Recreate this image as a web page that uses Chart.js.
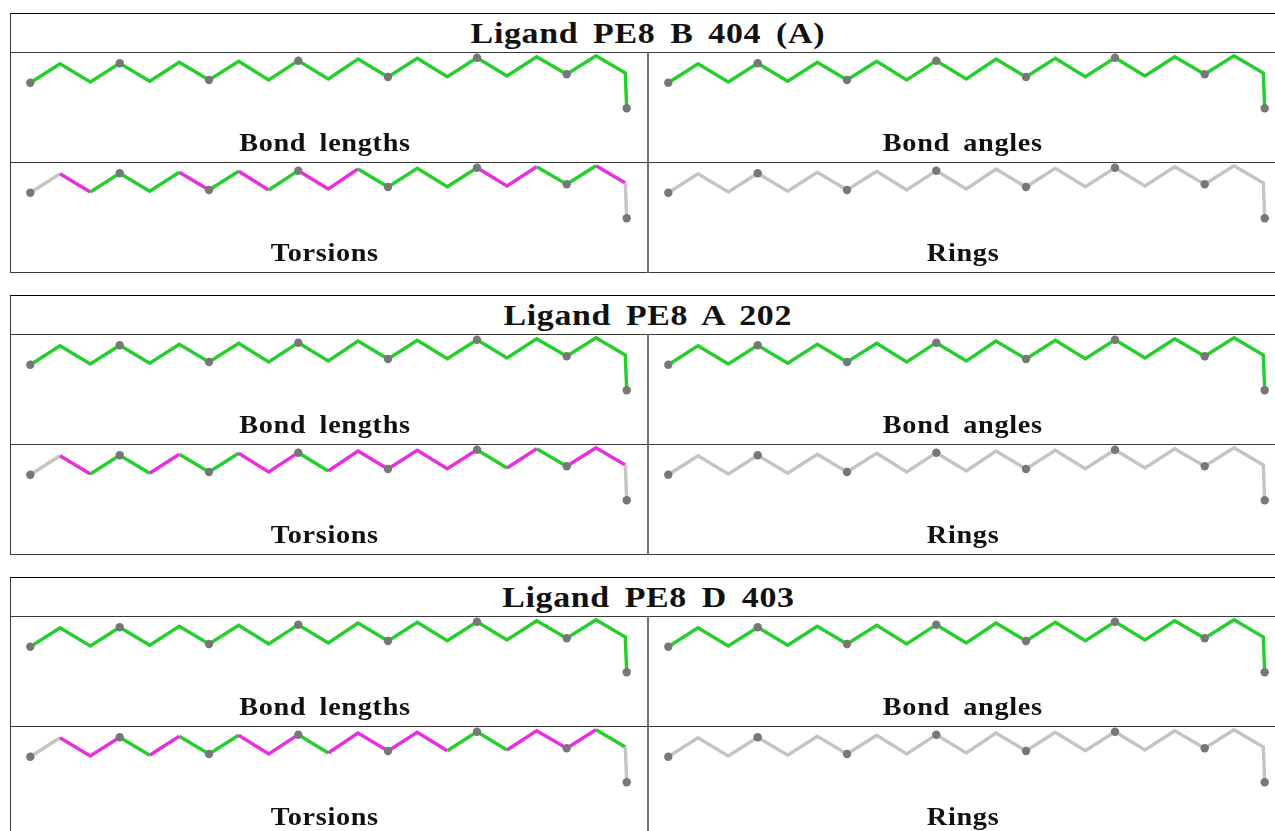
<!DOCTYPE html>
<html>
<head>
<meta charset="utf-8">
<title>Ligand geometry</title>
<script src="https://cdn.jsdelivr.net/npm/chart.js@4/dist/chart.umd.min.js"></script>
<style>
  html, body { margin: 0; padding: 0; background: #fff; width: 1275px; height: 831px; overflow: hidden; }
  body { position: relative; font-family: "Liberation Serif", serif; font-weight: bold; color: #111; }
  table { position: absolute; left: 10px; width: 1276px; height: 260px; border-collapse: collapse; table-layout: fixed; }
  td { padding: 0; border: 1px solid #3a3a3a; position: relative; text-align: center; }
  td.head { height: 38px; font-size: 30px; border-top-color: #000; }
  td.panel { height: 108px; width: 637px; }
  td.left { border-right: 2px solid #6e6e6e; }
  td.right { border-right: none; }
  canvas { position: absolute; left: 0; top: 0; filter: blur(0.45px); }
  .lab { position: absolute; left: 0; right: 8px; bottom: 6px; font-size: 25px; line-height: 26px; }
  .wide { display: inline-block; letter-spacing: 0.6px; word-spacing: 5px; transform: scaleX(1.13); }
</style>
</head>
<body>
<script>
// atom positions of the PE8 chain
const chainX = [19.3, 49, 79.3, 108.7, 138.7, 168.3, 198, 227.7, 257.7, 287.3, 317.3,
                347, 377, 406.3, 436.3, 466, 496, 525.7, 555.7, 585, 614.3, 615.7];
const chainY = [29.7, 10.7, 29, 10.3, 28.3, 9.3, 27, 8.3, 27, 7.7, 26,
                6, 24, 5.3, 23.7, 4.7, 23, 3.7, 21.3, 2.7, 20, 55.3];
// the grey spheres sit on these atoms
const oxygenAtoms = [0, 3, 6, 9, 12, 15, 18, 21];

// bond states: 0 = not assessed, 1 = acceptable, 2 = outlier
const allGood = [1,1,1,1,1,1,1,1,1,1,1,1,1,1,1,1,1,1,1,1,1];
const noRings = [0,0,0,0,0,0,0,0,0,0,0,0,0,0,0,0,0,0,0,0,0];
const torsionsB404 = [0,2,1,1,1,2,1,2,1,2,2,1,1,1,1,2,2,1,1,2,0];
const torsionsA202 = [0,2,1,1,2,1,1,2,2,1,2,2,2,2,2,1,2,1,2,2,0];
const torsionsD403 = [0,2,2,1,2,1,1,2,2,1,2,2,2,2,1,1,2,2,2,1,0];

const ligandTitles = ['Ligand PE8 B 404 (A)', 'Ligand PE8 A 202', 'Ligand PE8 D 403'];
const ligandTorsions = [torsionsB404, torsionsA202, torsionsD403];
const tableTops = [13, 295, 577];

const bondColors = ['#c4c4c4', '#25cf2b', '#e82ee0'];

function wideText(text) {
    const span = document.createElement('span');
    span.className = 'wide';
    span.textContent = text;
    return span;
}

function addPanel(row, label, states, cls) {
    const td = document.createElement('td');
    td.className = 'panel ' + cls;
    const canvas = document.createElement('canvas');
    canvas.width = 638;
    canvas.height = 110;
    td.appendChild(canvas);
    const lab = document.createElement('div');
    lab.className = 'lab';
    lab.appendChild(wideText(label));
    td.appendChild(lab);
    row.appendChild(td);

    new Chart(canvas.getContext('2d'), {
        type: 'scatter',
        data: {
            datasets: [{
                data: chainX.map((x, i) => ({ x: x, y: chainY[i] })),
                showLine: true,
                borderWidth: 3.4,
                tension: 0,
                borderColor: bondColors[1],
                segment: {
                    borderColor: ctx => bondColors[states[ctx.p0DataIndex]]
                },
                pointRadius: chainX.map((x, i) => oxygenAtoms.includes(i) ? 4.2 : 0),
                pointBackgroundColor: '#777777',
                pointBorderWidth: 0,
                clip: false
            }]
        },
        options: {
            responsive: false,
            animation: false,
            layout: { padding: 0, autoPadding: false },
            plugins: { legend: { display: false }, tooltip: { enabled: false } },
            scales: {
                x: { type: 'linear', display: false, min: 0, max: 638 },
                y: { type: 'linear', display: false, min: 0, max: 110, reverse: true }
            }
        }
    });
}

ligandTitles.forEach((title, n) => {
    const table = document.createElement('table');
    table.style.top = tableTops[n] + 'px';
    const head = table.insertRow();
    const th = head.insertCell();
    th.colSpan = 2;
    th.className = 'head';
    th.appendChild(wideText(title));
    const r1 = table.insertRow();
    addPanel(r1, 'Bond lengths', allGood, 'left');
    addPanel(r1, 'Bond angles', allGood, 'right');
    const r2 = table.insertRow();
    addPanel(r2, 'Torsions', ligandTorsions[n], 'left');
    addPanel(r2, 'Rings', noRings, 'right');
    document.body.appendChild(table);
});
</script>
</body>
</html>
